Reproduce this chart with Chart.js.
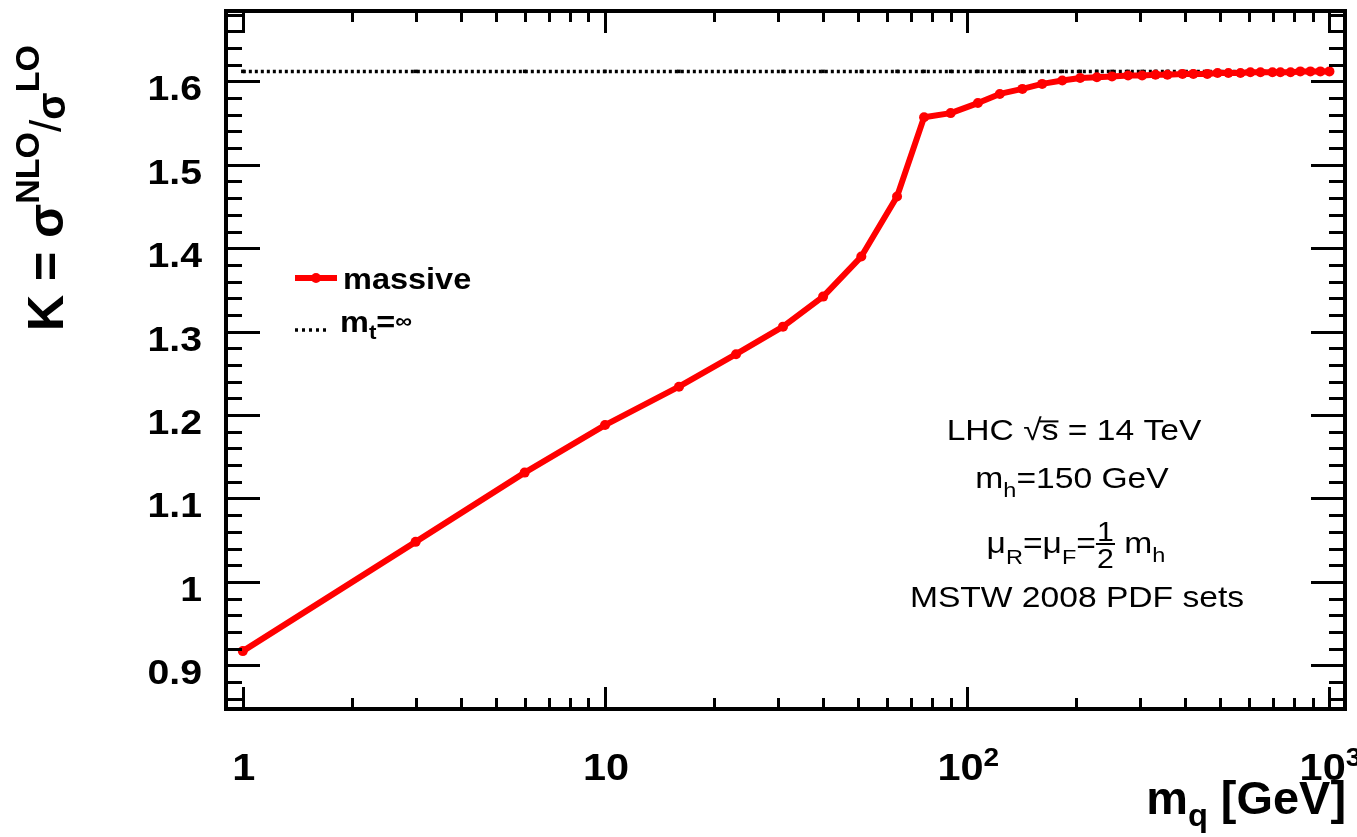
<!DOCTYPE html>
<html>
<head>
<meta charset="utf-8">
<script src="https://cdn.jsdelivr.net/npm/chart.js@4.4.1/dist/chart.umd.min.js"></script>
<style>
  html, body { margin: 0; padding: 0; background: #fff; }
  #wrap { width: 1357px; height: 837px; }
</style>
</head>
<body>
<div id="wrap"><canvas id="myChart"></canvas></div>
<script>
// quark mass points (GeV) and K factors
const quarkMass = [1, 3, 6, 10, 16, 23, 31, 40, 51, 64,
  76, 90, 107, 123, 142, 161, 183, 205, 228, 251,
  278, 304, 331, 357, 393, 421, 460, 491, 526, 568,
  605, 645, 696, 732, 781, 831, 886, 944, 1000];
const kMassive = [0.917, 1.048, 1.131, 1.188, 1.234, 1.273, 1.306, 1.342, 1.390, 1.462,
  1.557, 1.562, 1.574, 1.585, 1.591, 1.597, 1.601, 1.604, 1.605, 1.606,
  1.607, 1.607, 1.608, 1.608, 1.609, 1.609, 1.609, 1.610, 1.610, 1.610,
  1.611, 1.611, 1.611, 1.611, 1.611, 1.612, 1.612, 1.612, 1.612];
const kInfinite = [1.612, 1.612, 1.612, 1.612, 1.612, 1.612, 1.612, 1.612, 1.612, 1.612,
  1.612, 1.612, 1.612, 1.612, 1.612, 1.612, 1.612, 1.612, 1.612, 1.612,
  1.612, 1.612, 1.612, 1.612, 1.612, 1.612, 1.612, 1.612, 1.612, 1.612,
  1.612, 1.612, 1.612, 1.612, 1.612, 1.612, 1.612, 1.612, 1.612];

const yTickValues = [0.9, 1.0, 1.1, 1.2, 1.3, 1.4, 1.5, 1.6];
const yTickLabels = ["0.9", "1", "1.1", "1.2", "1.3", "1.4", "1.5", "1.6"];
const xTickValues = [1, 10, 100, 1000];
const xTickBase = ["1", "10", "10", "10"];
const xTickExp = ["", "", "2", "3"];

const FAMILY = "'Liberation Sans', Arial, sans-serif";
const SX = 1.12; // the original is a bit wider than tall

function fontOf(s) {
  return (s.bold ? "bold " : "") + s.size + "px " + FAMILY;
}

// draws a run of text pieces (sub/superscripts, overline, fraction)
function drawRich(ctx, segs, x, y, align, sx) {
  let total = 0;
  const widths = segs.map((s) => {
    ctx.font = fontOf(s);
    let w = s.frac
      ? Math.max(ctx.measureText(s.frac[0]).width, ctx.measureText(s.frac[1]).width) + 2
      : ctx.measureText(s.t).width;
    total += w;
    return w;
  });
  let start = 0;
  if (align === "center") start = -total * sx / 2;
  if (align === "right") start = -total * sx;
  ctx.save();
  ctx.translate(x + start, y);
  ctx.scale(sx, 1);
  ctx.fillStyle = "#000";
  ctx.strokeStyle = "#000";
  ctx.textAlign = "left";
  ctx.textBaseline = "alphabetic";
  let cx = 0;
  segs.forEach((s, i) => {
    ctx.font = fontOf(s);
    const w = widths[i];
    if (s.frac) {
      ctx.textAlign = "center";
      ctx.fillText(s.frac[0], cx + w / 2, -12);
      ctx.fillText(s.frac[1], cx + w / 2, 15);
      ctx.textAlign = "left";
      ctx.lineWidth = 2;
      ctx.beginPath();
      ctx.moveTo(cx, -9);
      ctx.lineTo(cx + w, -9);
      ctx.stroke();
    } else {
      ctx.fillText(s.t, cx, s.dy || 0);
    }
    if (s.over) {
      ctx.lineWidth = 2;
      ctx.beginPath();
      ctx.moveTo(cx - 2, -s.size * 0.62);
      ctx.lineTo(cx + w, -s.size * 0.62);
      ctx.stroke();
    }
    cx += w;
  });
  ctx.restore();
}

const framePlugin = {
  id: "rootFrame",
  afterDraw(chart) {
    const ctx = chart.ctx;
    const a = chart.chartArea;
    const xs = chart.scales.x;
    const ys = chart.scales.y;
    ctx.save();
    ctx.strokeStyle = "#000";
    ctx.fillStyle = "#000";

    // frame
    ctx.lineWidth = 4;
    ctx.strokeRect(a.left - 2, a.top - 2, a.right - a.left + 4, a.bottom - a.top + 4);

    // y ticks, inward on both sides
    ctx.lineWidth = 3;
    for (let i = 43; i <= 84; i++) {
      const v = i / 50;
      const py = Math.round(ys.getPixelForValue(v)) + 0.5;
      if (py < a.top || py > a.bottom) continue;
      const len = i % 5 === 0 ? 32 : 14;
      ctx.beginPath();
      ctx.moveTo(a.left, py); ctx.lineTo(a.left + len, py);
      ctx.moveTo(a.right, py); ctx.lineTo(a.right - len, py);
      ctx.stroke();
    }
    // x ticks (log), inward on top and bottom
    for (let dec = 1; dec <= 1000; dec *= 10) {
      for (let m = 1; m <= 9; m++) {
        const v = dec * m;
        const px = Math.round(xs.getPixelForValue(v)) + 0.5;
        if (px < a.left || px > a.right) continue;
        const len = m === 1 ? 20 : 9;
        ctx.beginPath();
        ctx.moveTo(px, a.bottom); ctx.lineTo(px, a.bottom - len);
        ctx.moveTo(px, a.top); ctx.lineTo(px, a.top + len);
        ctx.stroke();
      }
    }

    // y tick labels
    yTickValues.forEach((v, i) => {
      const py = ys.getPixelForValue(v);
      drawRich(ctx, [{ t: yTickLabels[i], size: 35, bold: true }], 202, py + 19, "right", SX);
    });
    // x tick labels
    xTickValues.forEach((v, i) => {
      const px = xs.getPixelForValue(v);
      const segs = [{ t: xTickBase[i], size: 37, bold: true }];
      if (xTickExp[i]) segs.push({ t: xTickExp[i], size: 25, bold: true, dy: -14 });
      drawRich(ctx, segs, px + 1, 780, "center", SX);
    });

    // y axis title, rotated
    ctx.save();
    ctx.translate(63, 331);
    ctx.rotate(-Math.PI / 2);
    drawRich(ctx, [
      { t: "K = \u03c3", size: 50, bold: true },
      { t: "NLO", size: 34, bold: true, dy: -24 },
      { t: "/", size: 44, dy: -2 },
      { t: "\u03c3", size: 40, bold: true, dy: 2 },
      { t: "LO", size: 34, bold: true, dy: -24 }
    ], 0, 0, "left", 1);
    ctx.restore();

    // x axis title
    drawRich(ctx, [
      { t: "m", size: 46, bold: true },
      { t: "q", size: 32, bold: true, dy: 12 },
      { t: " [GeV]", size: 46, bold: true }
    ], 1346, 814, "right", 1.02);

    // legend
    ctx.strokeStyle = "#ff0000";
    ctx.lineWidth = 6;
    ctx.beginPath();
    ctx.moveTo(295, 278); ctx.lineTo(337, 278);
    ctx.stroke();
    ctx.fillStyle = "#ff0000";
    ctx.beginPath();
    ctx.arc(316, 278, 5, 0, Math.PI * 2);
    ctx.fill();
    drawRich(ctx, [{ t: "massive", size: 29, bold: true }], 343, 289, "left", SX);
    ctx.strokeStyle = "#000";
    ctx.lineWidth = 3.5;
    ctx.setLineDash([3, 4]);
    ctx.beginPath();
    ctx.moveTo(295, 330); ctx.lineTo(330, 330);
    ctx.stroke();
    ctx.setLineDash([]);
    drawRich(ctx, [
      { t: "m", size: 29, bold: true },
      { t: "t", size: 20, bold: true, dy: 7 },
      { t: "=", size: 29, bold: true },
      { t: "\u221e", size: 21, bold: true, dy: -4 }
    ], 340, 332, "left", SX);

    // annotation
    drawRich(ctx, [
      { t: "LHC \u221a", size: 30 },
      { t: "s", size: 30, over: true },
      { t: " = 14 TeV", size: 30 }
    ], 1074, 440, "center", SX);
    drawRich(ctx, [
      { t: "m", size: 30 },
      { t: "h", size: 21, dy: 9 },
      { t: "=150 GeV", size: 30 }
    ], 1072, 488, "center", SX);
    drawRich(ctx, [
      { t: "\u03bc", size: 30 },
      { t: "R", size: 21, dy: 11 },
      { t: "=\u03bc", size: 30 },
      { t: "F", size: 21, dy: 11 },
      { t: "=", size: 30 },
      { frac: ["1", "2"], size: 27 },
      { t: " m", size: 30 },
      { t: "h", size: 21, dy: 9 }
    ], 1076, 553, "center", SX);
    drawRich(ctx, [{ t: "MSTW 2008 PDF sets", size: 30 }], 1077, 607, "center", SX);

    ctx.restore();
  }
};

new Chart("myChart", {
  type: "line",
  data: {
    labels: quarkMass,
    datasets: [
      {
        label: "massive",
        data: quarkMass.map((m, i) => ({ x: m, y: kMassive[i] })),
        borderColor: "#ff0000",
        backgroundColor: "#ff0000",
        borderWidth: 6,
        pointRadius: 5,
        pointBorderWidth: 0,
        tension: 0,
        borderJoinStyle: "round",
        fill: false,
      },
      {
        label: "mt=inf",
        data: quarkMass.map((m, i) => ({ x: m, y: kInfinite[i] })),
        borderColor: "#000",
        backgroundColor: "#000",
        borderWidth: 3.5,
        borderDash: [3, 3],
        pointStyle: "rect",
        pointRadius: 2.5,
        pointBorderWidth: 0,
        fill: false,
      },
    ],
  },
  options: {
    responsive: true,
    maintainAspectRatio: false,
    animation: false,
    layout: {
      padding: { left: 228, top: 13, right: 14, bottom: 130 },
    },
    plugins: {
      legend: { display: false },
      tooltip: { enabled: false },
    },
    scales: {
      x: {
        type: "logarithmic",
        display: false,
        min: 0.91,
        max: 1090,
      },
      y: {
        display: false,
        min: 0.85,
        max: 1.682,
      },
    },
  },
  plugins: [framePlugin],
});
</script>
</body>
</html>
